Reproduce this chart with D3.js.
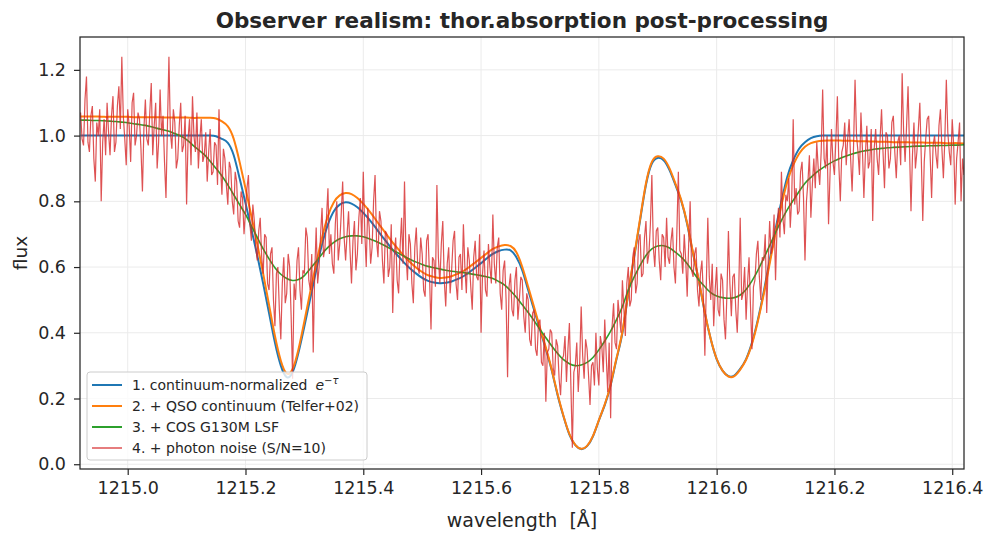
<!DOCTYPE html>
<html>
<head>
<meta charset="utf-8">
<script src="https://cdn.jsdelivr.net/npm/d3@7"></script>
<style>
  body { margin: 0; background: #fff; }
  svg { font-family: "DejaVu Sans", sans-serif; }
</style>
</head>
<body>
<div id="chart"></div>
<script>
const width = 997;
const height = 541;
const margin = { top: 37, right: 33, bottom: 72, left: 80 };

// smooth curves sampled every 0.01 A from 1214.92 to 1216.42
const smoothStart = 1214.92;
const smoothStep = 0.01;

const fluxNormalized = [
  1.0, 1.0, 1.0, 1.0, 1.0, 1.0, 1.0, 1.0, 1.0, 1.0,
  1.0, 1.0, 1.0, 1.0, 1.0, 1.0, 1.0, 1.0, 1.0, 1.0,
  1.0, 1.0, 1.0, 0.998, 0.99, 0.978, 0.94, 0.87, 0.795, 0.715,
  0.635, 0.55, 0.46, 0.37, 0.30, 0.265, 0.28, 0.34, 0.42, 0.505,
  0.59, 0.67, 0.73, 0.77, 0.79, 0.797, 0.793, 0.782, 0.765, 0.745,
  0.722, 0.698, 0.675, 0.652, 0.632, 0.612, 0.595, 0.58, 0.567, 0.558,
  0.553, 0.551, 0.552, 0.556, 0.563, 0.572, 0.584, 0.598, 0.612, 0.627,
  0.64, 0.649, 0.653, 0.651, 0.63, 0.59, 0.53, 0.47, 0.41, 0.35,
  0.285, 0.21, 0.145, 0.09, 0.058, 0.046, 0.055, 0.085, 0.133, 0.18,
  0.24, 0.32, 0.40, 0.52, 0.63, 0.742, 0.85, 0.915, 0.932, 0.925,
  0.895, 0.85, 0.80, 0.73, 0.64, 0.555, 0.46, 0.38, 0.32, 0.285,
  0.268, 0.27, 0.29, 0.32, 0.37, 0.44, 0.525, 0.62, 0.715, 0.80,
  0.875, 0.925, 0.96, 0.98, 0.992, 0.998, 1.0, 1.0, 1.0, 1.0,
  1.0, 1.0, 1.0, 1.0, 1.0, 1.0, 1.0, 1.0, 1.0, 1.0,
  1.0, 1.0, 1.0, 1.0, 1.0, 1.0, 1.0, 1.0, 1.0, 1.0,
  1.0
];

const fluxContinuum = [
  1.058, 1.058, 1.058, 1.058, 1.057, 1.057, 1.057, 1.057, 1.057, 1.056,
  1.056, 1.056, 1.056, 1.056, 1.055, 1.055, 1.055, 1.055, 1.055, 1.054,
  1.054, 1.054, 1.054, 1.052, 1.043, 1.028, 0.99, 0.92, 0.84, 0.755,
  0.67, 0.58, 0.485, 0.39, 0.315, 0.276, 0.29, 0.35, 0.435, 0.525,
  0.61, 0.69, 0.755, 0.797, 0.818, 0.825, 0.822, 0.81, 0.792, 0.771,
  0.747, 0.722, 0.698, 0.674, 0.653, 0.632, 0.614, 0.598, 0.585, 0.575,
  0.57, 0.567, 0.568, 0.572, 0.579, 0.588, 0.60, 0.614, 0.628, 0.642,
  0.655, 0.663, 0.667, 0.664, 0.645, 0.60, 0.54, 0.478, 0.415, 0.355,
  0.288, 0.213, 0.147, 0.092, 0.059, 0.047, 0.056, 0.086, 0.134, 0.182,
  0.243, 0.323, 0.404, 0.524, 0.635, 0.747, 0.855, 0.92, 0.937, 0.93,
  0.90, 0.854, 0.803, 0.733, 0.643, 0.557, 0.462, 0.381, 0.321, 0.285,
  0.267, 0.268, 0.288, 0.318, 0.366, 0.435, 0.518, 0.61, 0.703, 0.788,
  0.86, 0.91, 0.945, 0.966, 0.977, 0.982, 0.984, 0.985, 0.985, 0.985,
  0.984, 0.984, 0.983, 0.983, 0.982, 0.982, 0.981, 0.981, 0.98, 0.98,
  0.98, 0.979, 0.979, 0.979, 0.978, 0.978, 0.978, 0.977, 0.977, 0.977,
  0.976
];

const fluxLSF = [
  1.047, 1.047, 1.046, 1.046, 1.045, 1.044, 1.043, 1.041, 1.039, 1.036,
  1.034, 1.031, 1.027, 1.022, 1.018, 1.013, 1.006, 0.999, 0.988, 0.972,
  0.957, 0.942, 0.922, 0.90, 0.877, 0.85, 0.82, 0.79, 0.76, 0.725,
  0.69, 0.655, 0.625, 0.598, 0.578, 0.565, 0.559, 0.562, 0.574, 0.595,
  0.617, 0.64, 0.66, 0.675, 0.686, 0.692, 0.695, 0.695, 0.692, 0.686,
  0.679, 0.671, 0.662, 0.652, 0.642, 0.632, 0.623, 0.615, 0.608, 0.602,
  0.598, 0.594, 0.59, 0.587, 0.585, 0.583, 0.58, 0.577, 0.574, 0.57,
  0.565, 0.556, 0.545, 0.528, 0.508, 0.485, 0.462, 0.437, 0.41, 0.385,
  0.36, 0.337, 0.318, 0.306, 0.30, 0.302, 0.31, 0.325, 0.348, 0.375,
  0.405, 0.44, 0.48, 0.53, 0.57, 0.605, 0.635, 0.655, 0.664, 0.665,
  0.658, 0.645, 0.63, 0.61, 0.585, 0.56, 0.54, 0.522, 0.512, 0.507,
  0.505, 0.507, 0.515, 0.532, 0.558, 0.59, 0.627, 0.665, 0.705, 0.742,
  0.775, 0.803, 0.83, 0.855, 0.873, 0.889, 0.902, 0.913, 0.923, 0.931,
  0.938, 0.944, 0.949, 0.953, 0.956, 0.959, 0.961, 0.963, 0.964, 0.965,
  0.966, 0.967, 0.968, 0.968, 0.969, 0.969, 0.97, 0.97, 0.971, 0.971,
  0.972
];

// noisy spectrum sampled every 0.0025 A from 1214.92
const noisyStart = 1214.92;
const noisyStep = 0.0025;

const fluxNoisy = [
  1.07, 0.99, 0.97, 1.11, 1.18, 0.98, 0.95, 1.06, 1.09, 0.93, 0.86, 1.04, 1.00, 1.08, 0.80, 0.98, 1.05, 0.94, 1.10, 1.01,
  0.94, 1.06, 1.12, 0.95, 0.98, 1.09, 1.15, 1.02, 1.24, 1.06, 0.99, 0.91, 1.08, 1.03, 0.92, 1.10, 1.13, 0.97, 1.00, 1.07,
  1.05, 0.96, 0.83, 1.02, 1.11, 0.99, 0.97, 1.07, 1.16, 0.94, 1.03, 1.10, 0.90, 0.98, 1.14, 1.00, 1.06, 0.92, 0.81, 1.03,
  1.24, 1.01, 0.96, 1.08, 1.04, 0.90, 0.93, 1.03, 1.10, 0.95, 0.97, 1.06, 0.79, 0.99, 1.05, 0.91, 1.12, 1.00, 0.95, 1.07,
  0.90, 0.99, 1.05, 0.92, 0.94, 1.01, 0.86, 0.95, 1.02, 0.88, 0.89, 0.98, 0.97, 0.85, 1.08, 0.91, 0.82, 0.96, 0.93, 0.85,
  0.79, 0.92, 0.90, 0.80, 0.76, 0.89, 0.86, 0.74, 0.72, 0.83, 0.81, 0.70, 0.77, 0.84, 0.88, 0.73, 0.68, 0.79, 0.74, 0.66,
  0.62, 0.71, 0.75, 0.63, 0.58, 0.70, 0.69, 0.55, 0.53, 0.64, 0.66, 0.50, 0.42, 0.58, 0.60, 0.47, 0.38, 0.55, 0.63, 0.49,
  0.52, 0.64, 0.60, 0.45, 0.26, 0.55, 0.50, 0.62, 0.66, 0.53, 0.47, 0.59, 0.58, 0.72, 0.69, 0.56, 0.53, 0.64, 0.34, 0.58,
  0.72, 0.55, 0.60, 0.70, 0.78, 0.63, 0.66, 0.75, 0.84, 0.64, 0.70, 0.61, 0.58, 0.73, 0.80, 0.62, 0.67, 0.76, 0.86, 0.69,
  0.62, 0.70, 0.77, 0.65, 0.55, 0.68, 0.74, 0.59, 0.64, 0.75, 0.81, 0.67, 0.89, 0.71, 0.60, 0.78, 0.72, 0.61, 0.66, 0.80,
  0.88, 0.68, 0.63, 0.77, 0.74, 0.62, 0.55, 0.71, 0.70, 0.57, 0.60, 0.73, 0.46, 0.63, 0.69, 0.56, 0.52, 0.66, 0.75, 0.61,
  0.86, 0.64, 0.56, 0.70, 0.67, 0.55, 0.49, 0.66, 0.72, 0.60, 0.58, 0.69, 0.64, 0.53, 0.51, 0.68, 0.70, 0.57, 0.41, 0.63,
  0.62, 0.54, 0.85, 0.63, 0.55, 0.67, 0.74, 0.56, 0.48, 0.61, 0.66, 0.52, 0.59, 0.68, 0.71, 0.55, 0.50, 0.63, 0.64, 0.53,
  0.73, 0.60, 0.52, 0.66, 0.62, 0.54, 0.47, 0.63, 0.68, 0.57, 0.56, 0.70, 0.40, 0.58, 0.65, 0.53, 0.51, 0.67, 0.60, 0.55,
  0.76, 0.61, 0.55, 0.66, 0.69, 0.52, 0.47, 0.59, 0.62, 0.50, 0.265, 0.54, 0.58, 0.47, 0.45, 0.56, 0.60, 0.44, 0.50, 0.57,
  0.56, 0.45, 0.40, 0.52, 0.50, 0.38, 0.36, 0.46, 0.47, 0.35, 0.33, 0.43, 0.44, 0.31, 0.30, 0.40, 0.19, 0.34, 0.35, 0.41,
  0.40, 0.29, 0.27, 0.38, 0.36, 0.26, 0.21, 0.32, 0.33, 0.39, 0.25, 0.35, 0.43, 0.24, 0.05, 0.28, 0.30, 0.37, 0.22, 0.31,
  0.48, 0.33, 0.26, 0.38, 0.35, 0.27, 0.18, 0.30, 0.31, 0.24, 0.40, 0.29, 0.24, 0.39, 0.36, 0.28, 0.44, 0.33, 0.22, 0.37,
  0.14, 0.42, 0.49, 0.37, 0.35, 0.50, 0.45, 0.40, 0.56, 0.47, 0.39, 0.55, 0.60, 0.48, 0.50, 0.63, 0.66, 0.52, 0.55, 0.68,
  0.70, 0.57, 0.58, 0.69, 0.74, 0.61, 0.64, 0.73, 0.88, 0.66, 0.60, 0.71, 0.72, 0.62, 0.56, 0.70, 0.69, 0.60, 0.75, 0.63,
  0.61, 0.68, 0.72, 0.60, 0.55, 0.71, 0.89, 0.65, 0.64, 0.58, 0.70, 0.62, 0.51, 0.67, 0.80, 0.59, 0.57, 0.64, 0.66, 0.53,
  0.48, 0.58, 0.62, 0.51, 0.33, 0.55, 0.75, 0.57, 0.50, 0.61, 0.42, 0.53, 0.60, 0.47, 0.45, 0.58, 0.56, 0.44, 0.38, 0.52,
  0.71, 0.55, 0.45, 0.57, 0.58, 0.47, 0.40, 0.53, 0.75, 0.50, 0.52, 0.60, 0.44, 0.55, 0.63, 0.48, 0.35, 0.54, 0.56, 0.64,
  0.68, 0.57, 0.50, 0.63, 0.62, 0.70, 0.46, 0.61, 0.74, 0.64, 0.66, 0.76, 0.56, 0.72, 0.78, 0.69, 0.89, 0.75, 0.70, 0.82,
  0.80, 0.87, 0.72, 0.81, 1.05, 0.79, 0.84, 0.76, 0.77, 0.89, 0.92, 0.81, 0.62, 0.80, 0.86, 0.94, 0.75, 0.85, 0.93, 0.84,
  0.98, 0.90, 0.85, 0.95, 1.14, 0.93, 0.90, 1.00, 0.73, 0.88, 1.02, 0.92, 0.88, 0.99, 1.12, 0.91, 0.80, 0.95, 0.97, 1.04,
  0.91, 0.99, 1.05, 0.93, 0.83, 0.97, 1.17, 1.00, 0.95, 0.88, 1.07, 0.96, 0.81, 0.94, 1.03, 0.90, 0.92, 1.02, 0.74, 0.96,
  1.02, 0.93, 0.88, 0.99, 1.08, 0.95, 0.84, 1.01, 1.00, 0.90, 0.93, 1.04, 1.06, 0.95, 0.87, 0.98, 1.00, 0.91, 1.19, 1.01,
  0.92, 1.03, 1.15, 0.96, 0.77, 0.94, 1.04, 0.90, 0.95, 1.02, 1.10, 0.93, 0.74, 0.92, 0.99, 1.05, 1.06, 0.94, 0.81, 0.97,
  1.00, 0.94, 0.90, 1.03, 1.08, 0.96, 0.87, 0.99, 1.17, 1.01, 0.95, 0.91, 1.05, 0.97, 0.79, 0.93, 0.98, 1.04, 0.80, 0.93,
  0.88
];

const xTicks = [1215.0, 1215.2, 1215.4, 1215.6, 1215.8, 1216.0, 1216.2, 1216.4];
const yTicks = [0.0, 0.2, 0.4, 0.6, 0.8, 1.0, 1.2];
const xDomain = [1214.919, 1216.42];
const yDomain = [-0.0145, 1.30];

const seriesNames = [
  "1. continuum-normalized",
  "2. + QSO continuum (Telfer+02)",
  "3. + COS G130M LSF",
  "4. + photon noise (S/N=10)"
];
const seriesColors = ["#1f77b4", "#ff7f0e", "#2ca02c", "#d62728"];

const svg = d3.select('#chart')
  .append('svg')
  .attr('width', width)
  .attr('height', height);

const xScale = d3.scaleLinear()
  .domain(xDomain)
  .range([margin.left, width - margin.right]);

const yScale = d3.scaleLinear()
  .domain(yDomain)
  .range([height - margin.bottom, margin.top]);

// grid
svg.append("g")
  .selectAll("line")
  .data(xTicks)
  .join("line")
  .attr("x1", d => xScale(d)).attr("x2", d => xScale(d))
  .attr("y1", margin.top).attr("y2", height - margin.bottom)
  .attr("stroke", "#ebebeb").attr("stroke-width", 1);

svg.append("g")
  .selectAll("line")
  .data(yTicks)
  .join("line")
  .attr("x1", margin.left).attr("x2", width - margin.right)
  .attr("y1", d => yScale(d)).attr("y2", d => yScale(d))
  .attr("stroke", "#ebebeb").attr("stroke-width", 1);

svg.append("clipPath")
  .attr("id", "plotClip")
  .append("rect")
  .attr("x", margin.left)
  .attr("y", margin.top)
  .attr("width", width - margin.left - margin.right)
  .attr("height", height - margin.top - margin.bottom);

const toPoints = (arr, start, step) => arr.map((v, i) => [start + i * step, v]);

const line = d3.line()
  .x(d => xScale(d[0]))
  .y(d => yScale(d[1]))
  .curve(d3.curveNatural);

const lineRaw = d3.line()
  .x(d => xScale(d[0]))
  .y(d => yScale(d[1]));

const plot = svg.append("g").attr("clip-path", "url(#plotClip)");

plot.append("path")
  .datum(toPoints(fluxNormalized, smoothStart, smoothStep))
  .attr("d", line)
  .attr("fill", "none")
  .attr("stroke", seriesColors[0])
  .attr("stroke-width", 2);

plot.append("path")
  .datum(toPoints(fluxContinuum, smoothStart, smoothStep))
  .attr("d", line)
  .attr("fill", "none")
  .attr("stroke", seriesColors[1])
  .attr("stroke-width", 2);

plot.append("path")
  .datum(toPoints(fluxLSF, smoothStart, smoothStep))
  .attr("d", line)
  .attr("fill", "none")
  .attr("stroke", seriesColors[2])
  .attr("stroke-width", 1.6);

plot.append("path")
  .datum(toPoints(fluxNoisy, noisyStart, noisyStep))
  .attr("d", lineRaw)
  .attr("fill", "none")
  .attr("stroke", seriesColors[3])
  .attr("stroke-opacity", 0.8)
  .attr("stroke-width", 1.2);

// axes
const xAxis = svg.append("g")
  .attr("transform", `translate(0, ${height - margin.bottom})`)
  .call(d3.axisBottom(xScale).tickValues(xTicks).tickFormat(d3.format(".1f")).tickSize(6).tickPadding(7));

const yAxis = svg.append("g")
  .attr("transform", `translate(${margin.left}, 0)`)
  .call(d3.axisLeft(yScale).tickValues(yTicks).tickFormat(d3.format(".1f")).tickSize(6).tickPadding(8));

[xAxis, yAxis].forEach(g => {
  g.select(".domain").remove();
  g.selectAll(".tick line").attr("stroke", "#262626").attr("stroke-width", 1.2);
  g.selectAll(".tick text")
    .attr("fill", "#262626")
    .style("font-size", "17.5px")
    .style("font-family", "DejaVu Sans, sans-serif");
});

// frame
svg.append("rect")
  .attr("x", margin.left)
  .attr("y", margin.top)
  .attr("width", width - margin.left - margin.right)
  .attr("height", height - margin.top - margin.bottom)
  .attr("fill", "none")
  .attr("stroke", "#262626")
  .attr("stroke-width", 1.25);

// labels
svg.append("text")
  .attr("x", (margin.left + width - margin.right) / 2)
  .attr("y", 28)
  .attr("text-anchor", "middle")
  .attr("fill", "#262626")
  .style("font-size", "21.5px")
  .style("font-weight", "bold")
  .text("Observer realism: thor.absorption post-processing");

svg.append("text")
  .attr("x", (margin.left + width - margin.right) / 2)
  .attr("y", 527)
  .attr("text-anchor", "middle")
  .attr("fill", "#262626")
  .style("font-size", "19px")
  .style("white-space", "pre")
  .text("wavelength  [Å]");

svg.append("text")
  .attr("transform", `translate(27, ${(margin.top + height - margin.bottom) / 2}) rotate(-90)`)
  .attr("text-anchor", "middle")
  .attr("fill", "#262626")
  .style("font-size", "18.5px")
  .text("flux");

// legend
const legend = svg.append("g").attr("transform", "translate(87, 372)");
legend.append("rect")
  .attr("width", 280)
  .attr("height", 88)
  .attr("rx", 3)
  .attr("fill", "#fff")
  .attr("fill-opacity", 0.8)
  .attr("stroke", "#cccccc")
  .attr("stroke-width", 1);

seriesNames.forEach((name, i) => {
  const row = legend.append("g").attr("transform", `translate(0, ${13 + i * 21})`);
  row.append("line")
    .attr("x1", 5).attr("x2", 35)
    .attr("stroke", seriesColors[i])
    .attr("stroke-opacity", i === 3 ? 0.6 : 1)
    .attr("stroke-width", 2);
  const t = row.append("text")
    .attr("x", 45)
    .attr("y", 5)
    .attr("fill", "#262626")
    .style("font-size", "14px")
    .text(name);
  if (i === 0) {
    t.append("tspan").attr("dx", 8).style("font-style", "italic").text("e");
    t.append("tspan").attr("dy", -6).style("font-size", "10px").text("−");
    t.append("tspan").style("font-size", "10px").style("font-style", "italic").text("τ");
  }
});
</script>
</body>
</html>
